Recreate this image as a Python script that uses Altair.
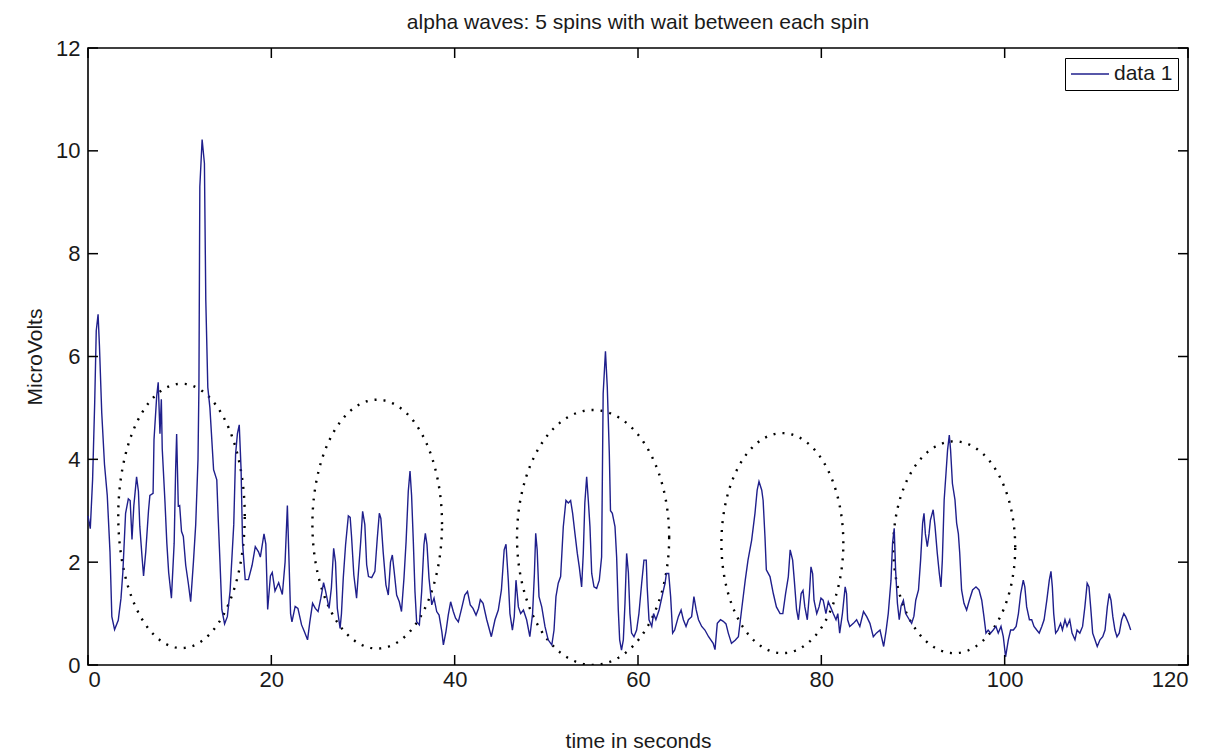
import altair as alt
import numpy as np
import pandas as pd

# time (s) and amplitude (microvolts)
T = [0.0, 0.25, 0.5, 0.73, 0.9, 1.1, 1.25, 1.5, 1.8, 2.1, 2.4, 2.6, 2.9, 3.3, 3.6, 3.8, 4.1, 4.4, 4.6, 4.8,
     5.0, 5.3, 5.5, 5.65, 5.9, 6.06, 6.3, 6.6, 6.75, 7.1, 7.2, 7.5, 7.66, 7.85, 8.0, 8.1, 8.4, 8.6, 8.8, 9.1,
     9.4, 9.56, 9.67, 9.85, 10.0, 10.2, 10.4, 10.66, 10.95, 11.2, 11.5, 11.75, 12.0, 12.1, 12.2, 12.45, 12.7, 12.85, 13.07, 13.3,
     13.7, 14.05, 14.2, 14.4, 14.6, 14.9, 15.2, 15.5, 15.9, 16.1, 16.3, 16.5, 16.7, 16.86, 17.15, 17.5, 17.9, 18.25, 18.6, 18.8,
     19.2, 19.4, 19.6, 19.9, 20.1, 20.4, 20.8, 21.2, 21.5, 21.75, 22.1, 22.25, 22.6, 22.9, 23.3, 23.6, 23.95, 24.2, 24.5, 24.8,
     25.1, 25.4, 25.7, 25.9, 26.3, 26.55, 26.8, 27.0, 27.2, 27.5, 27.65, 27.85, 28.1, 28.4, 28.6, 28.75, 29.0, 29.3, 29.5, 29.75,
     29.96, 30.2, 30.4, 30.6, 30.95, 31.3, 31.56, 31.78, 31.95, 32.2, 32.5, 32.76, 33.0, 33.2, 33.4, 33.67, 33.96, 34.2, 34.47, 34.7,
     34.94, 35.13, 35.3, 35.49, 35.67, 35.85, 36.15, 36.4, 36.65, 36.8, 36.98, 37.2, 37.5, 37.75, 38.04, 38.3, 38.6, 38.77, 39.05, 39.3,
     39.56, 39.85, 40.1, 40.4, 40.76, 41.1, 41.4, 41.7, 42.0, 42.33, 42.6, 42.8, 43.1, 43.5, 44.0, 44.4, 44.76, 45.1, 45.4, 45.6,
     45.85, 46.03, 46.3, 46.5, 46.69, 46.95, 47.2, 47.5, 47.85, 48.2, 48.5, 48.7, 48.84, 49.0, 49.2, 49.5, 49.85, 50.2, 50.6, 50.84,
     51.05, 51.3, 51.56, 51.85, 52.14, 52.4, 52.65, 52.87, 53.12, 53.38, 53.6, 53.85, 54.03, 54.2, 54.4, 54.58, 54.76, 54.95, 55.2, 55.49,
     55.78, 56.03, 56.2, 56.45, 56.65, 56.87, 57.0, 57.2, 57.49, 57.67, 57.85, 58.0, 58.2, 58.4, 58.58, 58.76, 58.95, 59.12, 59.3, 59.56,
     59.85, 60.1, 60.4, 60.65, 60.9, 61.0, 61.2, 61.5, 61.7, 61.95, 62.3, 62.69, 62.95, 63.1, 63.35, 63.56, 63.78, 64.0, 64.4, 64.7,
     64.95, 65.24, 65.5, 65.85, 66.1, 66.35, 66.6, 66.95, 67.3, 67.7, 68.2, 68.4, 68.65, 69.0, 69.3, 69.6, 69.85, 70.2, 70.6, 70.95,
     71.3, 71.7, 72.0, 72.4, 72.76, 73.0, 73.2, 73.5, 73.65, 73.85, 74.0, 74.4, 74.76, 75.1, 75.5, 75.8, 76.1, 76.4, 76.6, 76.87,
     77.05, 77.3, 77.5, 77.8, 78.0, 78.2, 78.47, 78.7, 78.87, 79.05, 79.2, 79.5, 79.75, 79.96, 80.2, 80.5, 80.76, 81.0, 81.3, 81.6,
     81.8, 82.0, 82.3, 82.6, 82.75, 82.87, 83.1, 83.5, 83.85, 84.2, 84.6, 84.95, 85.3, 85.67, 86.0, 86.4, 86.8, 87.05, 87.3, 87.6,
     87.77, 87.95, 88.1, 88.3, 88.5, 88.7, 88.95, 89.2, 89.6, 89.85, 90.1, 90.3, 90.6, 90.83, 91.05, 91.2, 91.35, 91.56, 91.75, 91.9,
     92.2, 92.4, 92.65, 92.87, 93.05, 93.2, 93.4, 93.6, 93.77, 93.96, 94.1, 94.3, 94.58, 94.76, 94.95, 95.1, 95.3, 95.56, 95.85, 96.15,
     96.5, 96.87, 97.2, 97.5, 97.74, 97.96, 98.2, 98.47, 98.75, 99.05, 99.3, 99.6, 99.85, 100.1, 100.4, 100.65, 100.95, 101.25, 101.5, 101.75,
     102.03, 102.2, 102.4, 102.7, 102.95, 103.2, 103.5, 103.77, 104.05, 104.3, 104.6, 104.87, 105.05, 105.2, 105.35, 105.56, 105.8, 106.1, 106.3, 106.58,
     106.8, 107.1, 107.35, 107.67, 107.9, 108.2, 108.5, 108.75, 109.0, 109.2, 109.38, 109.6, 109.85, 110.1, 110.4, 110.7, 110.95, 111.2, 111.41, 111.6,
     111.8, 112.03, 112.25, 112.5, 112.76, 113.0, 113.2, 113.5, 113.75]
V = [2.9, 2.65, 3.6, 5.1, 6.5, 6.82, 6.2, 4.9, 3.9, 3.3, 2.2, 0.94, 0.69, 0.87, 1.3, 1.8, 2.95, 3.23, 3.2, 2.44,
     3.1, 3.66, 3.38, 2.7, 2.09, 1.73, 2.2, 3.0, 3.3, 3.34, 4.38, 5.24, 5.5, 4.5, 5.17, 4.2, 3.16, 2.37, 1.8, 1.3,
     2.37, 3.8, 4.49, 3.09, 3.1, 2.6, 2.5, 1.94, 1.58, 1.23, 2.0, 2.73, 4.0, 5.4, 9.3, 10.22, 9.76, 7.1, 5.4, 5.0,
     3.8, 3.6, 2.87, 2.0, 1.08, 0.8, 0.94, 1.44, 2.73, 4.1, 4.5, 4.67, 3.8, 2.37, 1.66, 1.66, 1.94, 2.3, 2.2, 2.1,
     2.55, 2.35, 1.08, 1.73, 1.8, 1.44, 1.6, 1.37, 2.0, 3.1, 1.0, 0.84, 1.14, 1.1, 0.78, 0.65, 0.49, 0.84, 1.2, 1.1,
     1.04, 1.3, 1.6, 1.45, 1.1, 1.5, 2.27, 2.0, 1.1, 0.71, 1.0, 1.7, 2.34, 2.9, 2.87, 2.5, 1.75, 1.3, 1.8, 2.4,
     2.99, 2.73, 1.95, 1.72, 1.7, 1.82, 2.47, 2.95, 2.85, 2.2, 1.56, 1.36, 2.0, 2.14, 1.82, 1.36, 1.23, 1.04, 1.69, 2.4,
     3.38, 3.77, 3.3, 2.4, 1.43, 0.84, 0.78, 1.43, 2.34, 2.56, 2.34, 1.69, 1.17, 1.3, 1.04, 0.97, 0.65, 0.39, 0.65, 0.97,
     1.23, 1.04, 0.91, 0.84, 1.1, 1.36, 1.43, 1.17, 1.1, 0.97, 1.1, 1.27, 1.2, 0.88, 0.55, 0.88, 1.07, 1.46, 2.24, 2.35,
     1.65, 1.0, 0.68, 0.94, 1.65, 1.13, 1.0, 1.07, 0.88, 0.55, 1.0, 1.78, 2.56, 2.24, 1.33, 1.13, 0.75, 0.49, 0.39, 0.68,
     1.33, 1.59, 1.72, 2.69, 3.2, 3.15, 3.2, 2.95, 2.56, 2.17, 1.9, 1.52, 2.17, 3.15, 3.66, 3.2, 2.69, 1.78, 1.52, 1.49,
     1.65, 2.1, 5.28, 6.1, 5.4, 4.12, 3.0, 2.95, 2.69, 2.1, 1.07, 0.49, 0.29, 0.49, 1.2, 2.17, 1.8, 1.0, 0.62, 0.55,
     0.68, 1.0, 1.59, 2.04, 2.04, 1.52, 0.88, 0.75, 1.0, 0.88, 1.07, 1.39, 1.59, 1.78, 1.78, 1.33, 0.62, 0.68, 0.94, 1.07,
     0.88, 0.75, 0.88, 0.94, 1.33, 1.07, 0.88, 0.75, 0.68, 0.55, 0.42, 0.3, 0.81, 0.88, 0.85, 0.8, 0.62, 0.42, 0.48, 0.55,
     1.07, 1.65, 2.04, 2.43, 2.95, 3.4, 3.57, 3.4, 3.2, 2.5, 1.85, 1.72, 1.39, 1.13, 1.0, 1.0, 1.39, 1.72, 2.24, 2.04,
     1.65, 1.07, 0.88, 1.39, 1.45, 1.13, 0.88, 1.39, 1.91, 1.78, 1.26, 1.0, 1.13, 1.3, 1.26, 1.0, 1.23, 1.13, 1.0, 0.88,
     1.0, 0.62, 1.0, 1.52, 1.39, 0.88, 0.75, 0.81, 0.88, 0.75, 1.04, 0.94, 0.81, 0.55, 0.62, 0.68, 0.36, 0.65, 1.0, 1.65,
     2.37, 2.66, 1.85, 1.2, 0.88, 1.15, 1.26, 1.0, 0.88, 0.81, 0.95, 1.26, 1.46, 2.04, 2.76, 2.95, 2.55, 2.3, 2.55, 2.82,
     3.02, 2.7, 2.17, 1.78, 1.52, 2.04, 3.21, 3.73, 4.18, 4.47, 4.18, 3.53, 3.21, 2.76, 2.55, 2.17, 1.46, 1.2, 1.07, 1.26,
     1.46, 1.52, 1.46, 1.26, 0.94, 0.62, 0.68, 0.62, 0.68, 0.75, 0.62, 0.75, 0.55, 0.16, 0.49, 0.68, 0.68, 0.75, 1.0, 1.39,
     1.65, 1.52, 1.13, 0.88, 0.88, 0.75, 0.68, 0.62, 0.75, 0.88, 1.26, 1.65, 1.82, 1.52, 1.0, 0.62, 0.68, 0.81, 0.68, 0.88,
     0.75, 0.88, 0.62, 0.49, 0.68, 0.62, 0.75, 1.13, 1.59, 1.52, 1.13, 0.62, 0.49, 0.36, 0.49, 0.55, 0.68, 1.13, 1.39, 1.26,
     0.94, 0.68, 0.55, 0.62, 0.88, 1.0, 0.94, 0.81, 0.68]

# dotted ellipses (annotations): centre and radii in data units
ELL_CX = [10.2, 31.55, 55.1, 75.75, 94.5]
ELL_CY = [2.9, 2.74, 2.48, 2.37, 2.29]
ELL_RX = [6.9, 7.07, 8.3, 6.65, 6.65]
ELL_RY = [2.57, 2.42, 2.48, 2.14, 2.06]

X_TICKS = [0, 20, 40, 60, 80, 100, 120]
Y_TICKS = [0, 2, 4, 6, 8, 10, 12]

TITLE = "alpha waves: 5 spins with wait between each spin"
SERIES = "data 1"

W, H = 1100, 617
FONT = "Liberation Sans"
TXT = "#1a1a1a"

df = pd.DataFrame({"t": T, "v": V, "series": SERIES})

rows = []
ang = np.linspace(0, 2 * np.pi, 241)
for i, (cx, cy, rx, ry) in enumerate(zip(ELL_CX, ELL_CY, ELL_RX, ELL_RY)):
    for k, a in enumerate(ang):
        rows.append({"id": i, "k": k, "t": cx + rx * np.cos(a), "v": cy + ry * np.sin(a)})
df_e = pd.DataFrame(rows)

xs = alt.Scale(domain=[0, 120], nice=False, zero=False)
ys = alt.Scale(domain=[0, 12], nice=False, zero=False)

x_axis = alt.Axis(values=X_TICKS, title="time in seconds", ticks=False, domain=False, grid=False,
                  labelPadding=4, titlePadding=40, format="d")
y_axis = alt.Axis(values=Y_TICKS, title="MicroVolts", ticks=False, domain=False, grid=False,
                  labelPadding=8, titlePadding=10, format="d")

line = alt.Chart(df).mark_line(strokeWidth=1.4).encode(
    x=alt.X("t:Q", scale=xs, axis=x_axis),
    y=alt.Y("v:Q", scale=ys, axis=y_axis),
    color=alt.Color("series:N", scale=alt.Scale(range=["#1f1f8c"]),
                    legend=alt.Legend(title=None, orient="top-right", offset=10)),
)

ell = alt.Chart(df_e).mark_line(strokeWidth=2.4, strokeDash=[2, 7], color="black", clip=True).encode(
    x=alt.X("t:Q", scale=xs),
    y=alt.Y("v:Q", scale=ys),
    detail="id:N",
    order="k:Q",
)

df_xt = pd.DataFrame({"t": X_TICKS})
df_yt = pd.DataFrame({"v": Y_TICKS})
tick_style = dict(color="black", strokeWidth=1.5)
xt_bot = alt.Chart(df_xt).mark_rule(**tick_style).encode(x=alt.X("t:Q", scale=xs), y=alt.value(H), y2=alt.value(H - 10))
xt_top = alt.Chart(df_xt).mark_rule(**tick_style).encode(x=alt.X("t:Q", scale=xs), y=alt.value(0), y2=alt.value(10))
yt_left = alt.Chart(df_yt).mark_rule(**tick_style).encode(y=alt.Y("v:Q", scale=ys), x=alt.value(0), x2=alt.value(10))
yt_right = alt.Chart(df_yt).mark_rule(**tick_style).encode(y=alt.Y("v:Q", scale=ys), x=alt.value(W), x2=alt.value(W - 10))

chart = alt.layer(ell, line, xt_bot, xt_top, yt_left, yt_right).properties(
    width=W, height=H,
    title=alt.TitleParams(TITLE, anchor="middle", fontSize=21, font=FONT, fontWeight="normal", color=TXT, offset=4),
    autosize=alt.AutoSizeParams(type="none"),
    padding={"left": 80, "top": 40, "right": 21, "bottom": 90},
    background="white",
).configure_view(
    stroke="black", strokeWidth=1.6
).configure_axis(
    labelFont=FONT, titleFont=FONT, labelFontSize=22, titleFontSize=21, titleFontWeight="normal",
    labelColor=TXT, titleColor=TXT,
).configure_legend(
    strokeColor="black", fillColor="white", padding=5, symbolType="stroke", symbolSize=1444,
    symbolStrokeWidth=1.5, labelFont=FONT, labelFontSize=21, labelColor=TXT, cornerRadius=0,
    clipHeight=22,
)

chart.save("out.html", embed_options={"renderer": "svg", "actions": False})
